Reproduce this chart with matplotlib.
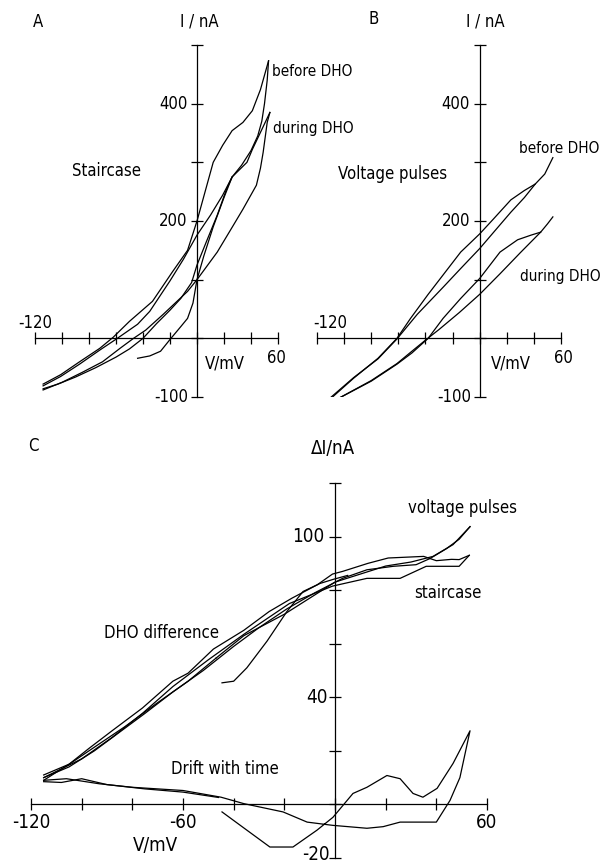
import matplotlib
matplotlib.use("Agg")
import matplotlib.pyplot as plt
from matplotlib import font_manager

# narrow face if the system has one, else plain DejaVu a bit smaller
plt.rcParams['font.family'] = ['DejaVu Sans']
plt.rcParams['font.stretch'] = 'condensed'
_path = font_manager.findfont(font_manager.FontProperties(family='DejaVu Sans', stretch='condensed'))
NARROW = 'Condensed' in _path
plt.rcParams['font.size'] = 12 if NARROW else 10.5
side = plt.rcParams['font.size'] - 1

# ---- panel A: staircase (V in mV, I in nA)
a_before_outer_v = [-114, -101, -87, -72, -62, -50, -33, -18, -7, 0, 12, 19, 26, 34, 41, 47, 53]
a_before_outer_i = [-78, -62, -40, -17, 2, 29, 63, 114, 150, 200, 300, 329, 354, 368, 388, 424, 473]
a_before_inner_v = [53, 52, 50, 48, 45, 40, 33, 26, 19, 10, 0, -10, -20, -35, -44, -59, -72, -87, -101, -114]
a_before_inner_i = [473, 440, 400, 370, 345, 320, 295, 275, 244, 210, 176, 135, 98, 46, 24, 0, -20, -44, -65, -81]
a_during_right_v = [-114, -100, -85, -70, -57, -47, -38, -25, -7, 0, 15, 27, 34, 44, 47, 49, 52, 54]
a_during_right_i = [-88, -75, -58, -40, -17, 0, 14, 41, 80, 100, 147, 193, 220, 261, 290, 317, 368, 385]
a_during_left_v = [54, 47, 41, 37, 26, 22, 15, 7, 0, -4, -12, -20, -30, -40, -50, -60, -75, -90, -103, -114]
a_during_left_i = [385, 351, 322, 300, 275, 255, 210, 165, 125, 95, 68, 48, 25, 0, -18, -32, -50, -66, -78, -86]
a_hook_v = [-44, -35, -27, -20, -12, -7, -3, 0, 5, 12, 20, 26]
a_hook_i = [-34, -30, -22, -2, 20, 34, 60, 100, 140, 190, 240, 275]

# ---- panel B: voltage pulses
b_before_upper_v = [-110, -93, -75, -61, -51, -38, -27, -14, 0, 10, 23, 33, 41, 48, 54]
b_before_upper_i = [-103, -68, -34, 0, 34, 75, 108, 147, 178, 203, 236, 252, 263, 280, 308]
b_before_lower_v = [-110, -93, -75, -61, -46, -27, -14, 0, 10, 23, 33, 41]
b_before_lower_i = [-101, -67, -35, -1, 41, 87, 119, 153, 180, 215, 240, 263]
b_during_upper_v = [-103, -80, -61, -50, -38, -27, -14, 0, 15, 28, 38, 45, 50, 54]
b_during_upper_i = [-101, -73, -44, -25, 0, 34, 68, 102, 147, 168, 176, 181, 195, 207]
b_during_lower_v = [-103, -80, -61, -50, -41, -30, -15, 0, 15, 30, 45]
b_during_lower_i = [-101, -72, -43, -22, -5, 15, 44, 75, 110, 146, 181]

# ---- panel C: DHO difference and drift (dI in nA)
c_stair_upper_v = [-115, -105, -97, -88, -76, -64, -58, -48, -36, -26, -17, -7, -1, 3, 13, 21, 35, 40, 46, 49, 53]
c_stair_upper_i = [11, 15, 21, 27.5, 36, 46, 49, 58, 65, 72, 77, 82, 86, 87, 90, 92, 92.6, 91, 91.5, 91.4, 93]
c_stair_lower_v = [-115, -100, -88, -76, -64, -50, -36, -18, -1, 12.6, 25.7, 36, 49, 53]
c_stair_lower_i = [10, 17, 25, 34, 44, 54, 63.5, 75, 81.5, 84.4, 84.4, 88.9, 88.9, 93]
c_stair_hook_v = [-44.6, -40, -34.8, -26.8, -19, -12.6, -5.9, -0.8, 5]
c_stair_hook_i = [45.4, 46, 51, 61, 72, 79.5, 82.5, 84, 85.5]
c_pulse_a_v = [-115, -105, -95, -85, -75, -64, -52, -40, -30, -19, -8, 3, 12.6, 23, 32, 37.5, 44, 49, 53.3]
c_pulse_a_i = [10, 14, 20, 27, 34, 42, 50, 59, 66, 73, 79, 84.4, 87.6, 88.9, 89.5, 91.8, 95.5, 99, 103.7]
c_pulse_b_v = [-115, -104, -94, -83, -70, -58, -47]
c_pulse_b_i = [9, 15.6, 22, 29, 38, 46, 54.6]
c_pulse_c_v = [-47, -36, -20, -10, 0, 10, 20, 30, 38.7, 46.6, 53.3]
c_pulse_c_i = [54.6, 63, 71, 77, 83, 86, 89, 90.5, 92.6, 97, 103.7]
c_drift_a_v = [-44.6, -34.8, -25.7, -16.6, -7.1, -0.8, 7.1, 12.6, 20.5, 25.7, 30.8, 34.7, 40.3, 46.6, 53.3,
               49.3, 45.4, 40, 36, 25.7, 19, 12.6, -1, -11, -20.5, -36, -45, -60, -80, -93, -106, -115]
c_drift_a_i = [-2.8, -9.6, -15.9, -15.9, -9.6, -4.8, 4.1, 6.4, 10.8, 9.6, 4.1, 2.7, 6, 15.3, 27.5,
               10, 1.5, -6.6, -6.6, -6.6, -8.3, -8.9, -7.8, -6.6, -2.8, 0.3, 2.7, 5.2, 6.4, 7.7, 9.6, 9]
c_drift_b_v = [-115, -108, -100, -90, -75, -60, -46]
c_drift_b_i = [8.5, 8.2, 9.6, 7.4, 5.8, 4.6, 2.6]


def style_axes(ax, xlim, ylim, xticks, yticks):
    ax.set_xlim(*xlim)
    ax.set_ylim(*ylim)
    ax.spines['top'].set_visible(False)
    ax.spines['right'].set_visible(False)
    ax.spines['left'].set_position(('data', 0))
    ax.spines['bottom'].set_position(('data', 0))
    for s in ['left', 'bottom']:
        ax.spines[s].set_linewidth(0.9)
    ax.set_xticks(xticks)
    ax.set_yticks(yticks)
    ax.tick_params(direction='inout', length=9, width=0.9,
                   labelbottom=False, labelleft=False)
    ax.patch.set_visible(False)


fig = plt.figure(figsize=(6.06, 8.64), dpi=100)
lw = 0.9
big = plt.rcParams['font.size'] + 1.5

# panel A
axA = fig.add_axes([35/606, 1-397/864, 243/606, 352/864])
style_axes(axA, (-120, 60), (-100, 500), range(-120, 61, 20), range(-100, 501, 100))
for v, i in [(a_before_outer_v, a_before_outer_i), (a_before_inner_v, a_before_inner_i),
             (a_during_right_v, a_during_right_i), (a_during_left_v, a_during_left_i),
             (a_hook_v, a_hook_i)]:
    axA.plot(v, i, color='black', lw=lw)
kw = dict(clip_on=False, va='center')
axA.text(-118, 540, 'A', ha='center', **kw)
axA.text(2, 540, 'I / nA', ha='center', **kw)
axA.text(-67, 285, 'Staircase', ha='center', **kw)
axA.text(55.5, 455, 'before DHO', ha='left', fontsize=side, **kw)
axA.text(56, 358, 'during DHO', ha='left', fontsize=side, **kw)
axA.text(-7, 400, '400', ha='right', **kw)
axA.text(-7, 200, '200', ha='right', **kw)
axA.text(-6.5, -100, '-100', ha='right', **kw)
axA.text(-120, 26, '-120', ha='center', **kw)
axA.text(59, -34, '60', ha='center', **kw)
axA.text(21, -43, 'V/mV', ha='center', **kw)

# panel B
axB = fig.add_axes([317/606, 1-397/864, 244/606, 352/864])
style_axes(axB, (-120, 60), (-100, 500), range(-120, 61, 20), range(-100, 501, 100))
for v, i in [(b_before_upper_v, b_before_upper_i), (b_before_lower_v, b_before_lower_i),
             (b_during_upper_v, b_during_upper_i), (b_during_lower_v, b_during_lower_i)]:
    axB.plot(v, i, color='black', lw=lw)
axB.text(-78, 544, 'B', ha='center', **kw)
axB.text(4, 540, 'I / nA', ha='center', **kw)
axB.text(-64, 280, 'Voltage pulses', ha='center', **kw)
axB.text(29, 324, 'before DHO', ha='left', fontsize=side, **kw)
axB.text(30, 106, 'during DHO', ha='left', fontsize=side, **kw)
axB.text(-7, 400, '400', ha='right', **kw)
axB.text(-7, 200, '200', ha='right', **kw)
axB.text(-6.5, -100, '-100', ha='right', **kw)
axB.text(-110, 26, '-120', ha='center', **kw)
axB.text(62, -34, '60', ha='center', **kw)
axB.text(23, -43, 'V/mV', ha='center', **kw)

# panel C
axC = fig.add_axes([31/606, 1-858/864, 456/606, 375/864])
style_axes(axC, (-120, 60), (-20, 120), range(-120, 61, 20), range(-20, 121, 20))
for v, i in [(c_stair_upper_v, c_stair_upper_i), (c_stair_lower_v, c_stair_lower_i),
             (c_stair_hook_v, c_stair_hook_i), (c_pulse_a_v, c_pulse_a_i),
             (c_pulse_b_v, c_pulse_b_i), (c_pulse_c_v, c_pulse_c_i),
             (c_drift_a_v, c_drift_a_i), (c_drift_b_v, c_drift_b_i)]:
    axC.plot(v, i, color='black', lw=lw)
axC.text(-119, 134, 'C', ha='center', **kw)
axC.text(-1, 133, '\u0394I/nA', ha='center', fontsize=big, **kw)
axC.text(-4, 100, '100', ha='right', fontsize=big, **kw)
axC.text(-3, 40, '40', ha='right', fontsize=big, **kw)
axC.text(-2, -18.8, '-20', ha='right', fontsize=big, **kw)
axC.text(-120, -6.7, '-120', ha='center', fontsize=big, **kw)
axC.text(-60, -6.7, '-60', ha='center', fontsize=big, **kw)
axC.text(60, -6.7, '60', ha='center', fontsize=big, **kw)
axC.text(-70.7, -15.3, 'V/mV', ha='center', fontsize=big, **kw)
axC.text(50.5, 110.5, 'voltage pulses', ha='center', **kw)
axC.text(44.6, 79, 'staircase', ha='center', **kw)
axC.text(-68.3, 64, 'DHO difference', ha='center', **kw)
axC.text(-43.4, 13.4, 'Drift with time', ha='center', **kw)

fig.savefig('out.png', dpi=100)
